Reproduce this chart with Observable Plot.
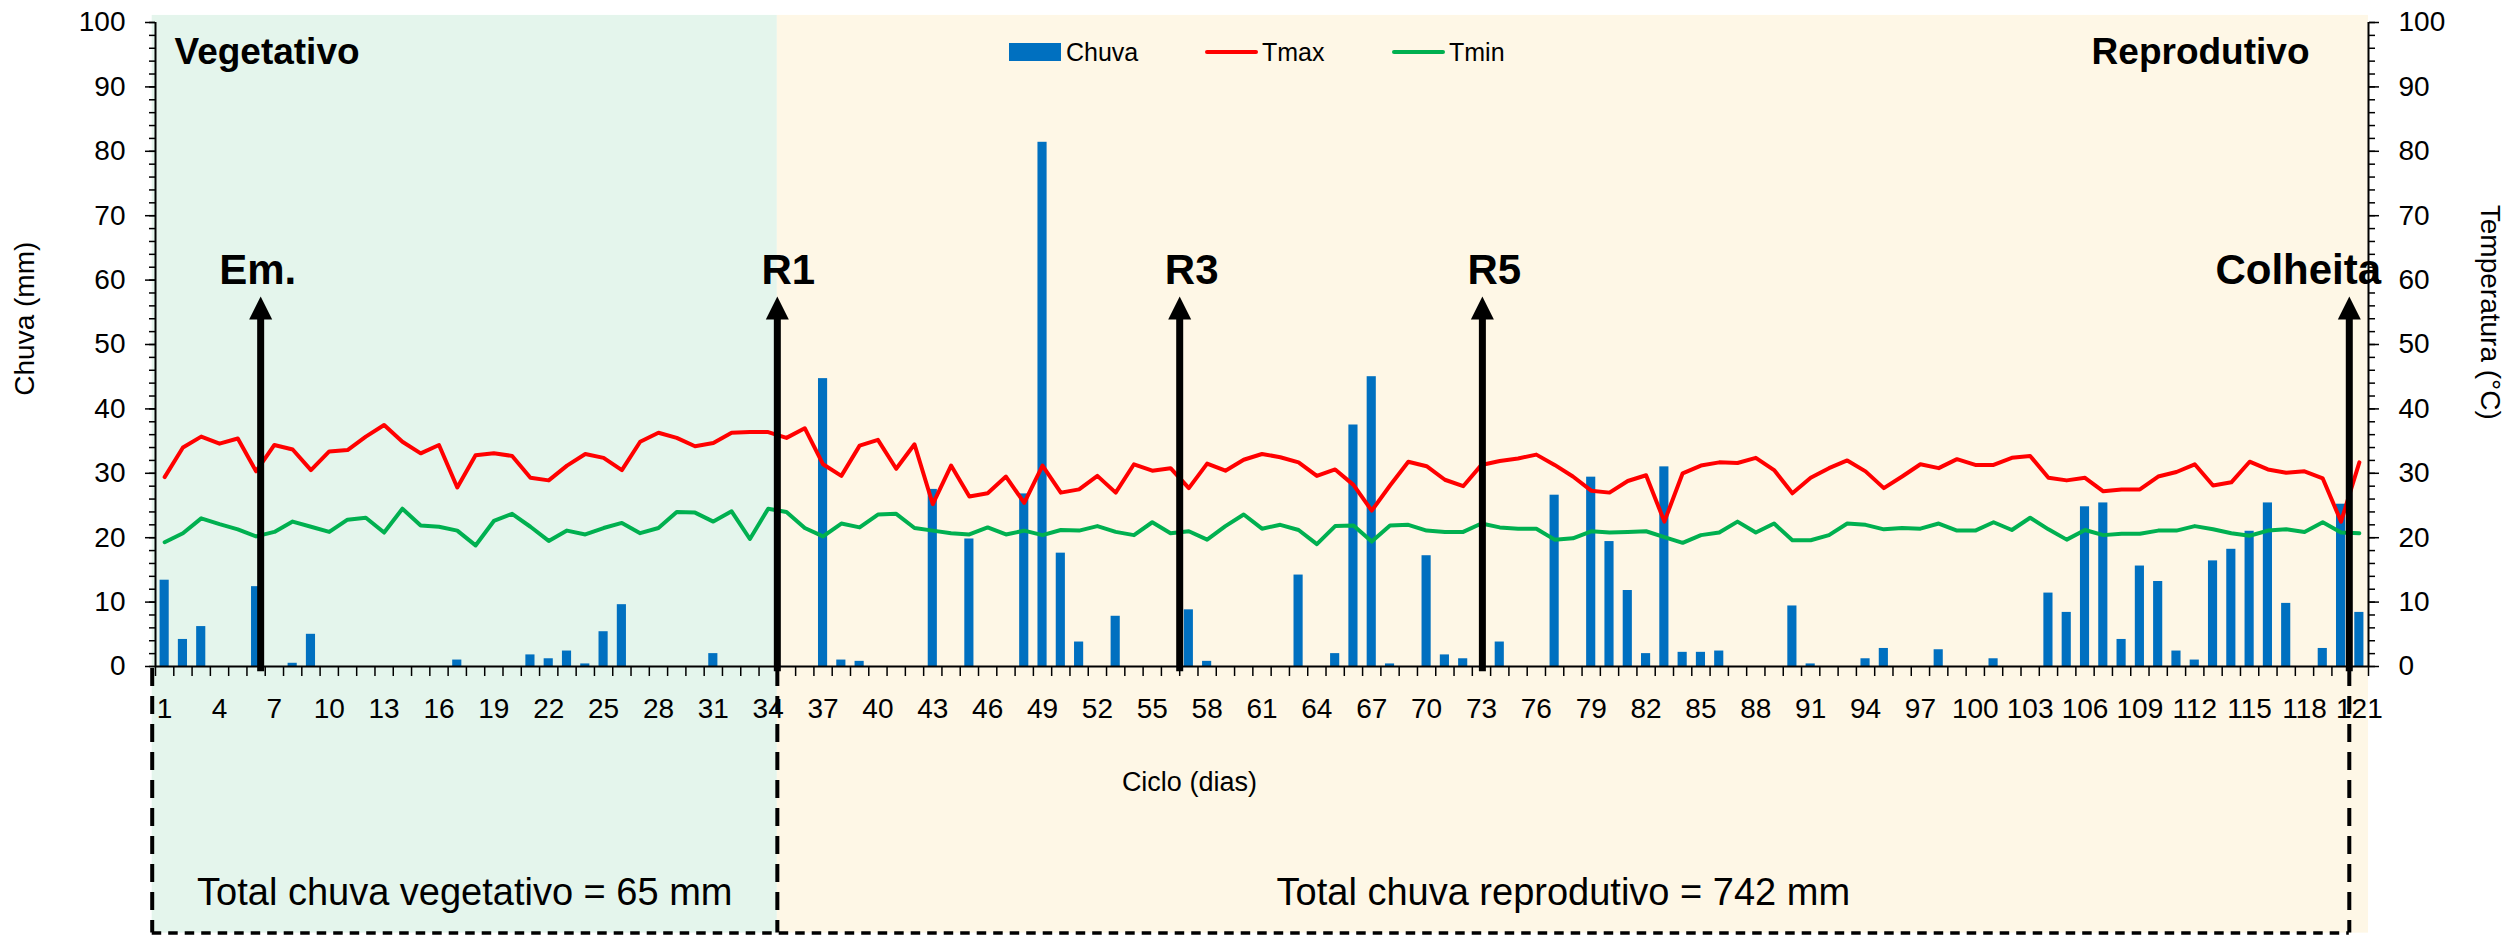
<!DOCTYPE html>
<html>
<head>
<meta charset="utf-8">
<script src="https://cdn.jsdelivr.net/npm/d3@7"></script>
<script src="https://cdn.jsdelivr.net/npm/@observablehq/plot@0.6"></script>
<style>
  html, body { margin: 0; padding: 0; background: #ffffff; }
  #wrap { position: relative; width: 2514px; height: 936px; font-family: "Liberation Sans", Arial, sans-serif; }
  #wrap svg { position: absolute; left: 0; top: 0; }
  .leg { position: absolute; }
  .legtxt { position: absolute; font-size: 25px; line-height: 1; transform: translateY(-50%); color: #000; white-space: nowrap; }
</style>
</head>
<body>
<div id="wrap"></div>
<script>
// ---- Data ----
const dias = d3.range(1, 122);            // Ciclo (dias): 1..121
const xTickLabels = d3.range(1, 122, 3);  // 1, 4, 7, ..., 121
const yTickLabels = d3.range(0, 101, 10); // 0..100

const chuva = [
  13.4, 4.2, 6.2, 0, 0, 12.4, 0, 0.5, 5.0, 0,
  0, 0, 0, 0, 0, 0, 1.0, 0, 0, 0,
  1.8, 1.2, 2.4, 0.4, 5.4, 9.6, 0, 0, 0, 0,
  2.0, 0, 0, 0, 0, 0, 44.7, 1.0, 0.8, 0,
  0, 0, 27.5, 0, 19.8, 0, 0, 26.8, 81.4, 17.6,
  3.8, 0, 7.8, 0, 0, 0, 8.8, 0.8, 0, 0,
  0, 0, 14.2, 0, 2.0, 37.5, 45.0, 0.4, 0, 17.2,
  1.8, 1.2, 0, 3.8, 0, 0, 26.6, 0, 29.4, 19.4,
  11.8, 2.0, 31.0, 2.2, 2.2, 2.4, 0, 0, 0, 9.4,
  0.4, 0, 0, 1.2, 2.8, 0, 0, 2.6, 0, 0,
  1.2, 0, 0, 11.4, 8.4, 24.8, 25.4, 4.2, 15.6, 13.2,
  2.4, 1.0, 16.4, 18.2, 21.0, 25.4, 9.8, 0, 2.8, 25.2,
  8.4
];

const tmax = [
  29.4, 34.0, 35.7, 34.6, 35.4, 30.3, 34.4, 33.7, 30.5, 33.4,
  33.6, 35.7, 37.5, 34.9, 33.1, 34.4, 27.8, 32.8, 33.1, 32.7,
  29.3, 28.9, 31.2, 33.0, 32.4, 30.5, 34.9, 36.3, 35.5, 34.2,
  34.7, 36.3, 36.4, 36.4, 35.5, 37.0, 31.4, 29.6, 34.3, 35.2,
  30.7, 34.5, 25.2, 31.2, 26.4, 26.9, 29.5, 25.4, 31.2, 27.0,
  27.5, 29.6, 27.0, 31.4, 30.4, 30.8, 27.7, 31.5, 30.4, 32.1,
  33.0, 32.5, 31.7, 29.6, 30.6, 28.2, 24.2, 28.1, 31.8, 31.1,
  29.0, 28.0, 31.3, 31.9, 32.3, 32.9, 31.3, 29.5, 27.3, 27.0,
  28.8, 29.7, 22.5, 30.0, 31.2, 31.7, 31.6, 32.4, 30.5, 26.9,
  29.3, 30.8, 32.0, 30.3, 27.7, 29.5, 31.4, 30.8, 32.2, 31.3,
  31.3, 32.4, 32.7, 29.3, 28.9, 29.3, 27.2, 27.5, 27.5, 29.5,
  30.2, 31.4, 28.1, 28.6, 31.8, 30.6, 30.1, 30.3, 29.2, 22.5,
  31.7
];

const tmin = [
  19.3, 20.7, 23.0, 22.1, 21.3, 20.2, 20.9, 22.5, 21.7, 20.9,
  22.8, 23.1, 20.8, 24.5, 21.9, 21.7, 21.1, 18.8, 22.6, 23.7,
  21.7, 19.5, 21.1, 20.5, 21.5, 22.3, 20.7, 21.5, 24.0, 23.9,
  22.5, 24.1, 19.8, 24.5, 24.0, 21.5, 20.2, 22.2, 21.6, 23.6,
  23.7, 21.5, 21.1, 20.7, 20.5, 21.6, 20.5, 21.1, 20.4, 21.2,
  21.1, 21.8, 20.9, 20.4, 22.4, 20.7, 21.0, 19.7, 21.8, 23.6,
  21.4, 22.0, 21.2, 19.0, 21.8, 21.9, 19.4, 21.9, 22.0, 21.1,
  20.9, 20.9, 22.2, 21.6, 21.4, 21.4, 19.7, 19.9, 21.0, 20.8,
  20.9, 21.0, 20.1, 19.2, 20.4, 20.8, 22.5, 20.8, 22.2, 19.6,
  19.6, 20.4, 22.2, 22.0, 21.3, 21.5, 21.4, 22.2, 21.1, 21.1,
  22.4, 21.2, 23.1, 21.3, 19.7, 21.2, 20.4, 20.6, 20.6, 21.1,
  21.1, 21.8, 21.3, 20.7, 20.3, 21.1, 21.3, 20.9, 22.4, 20.8,
  20.7
];

// Phenological stages (day position of each arrow)
const estadios = ["Em.", "R1", "R3", "R5", "Colheita"];
const estadioDia = [6.25, 34.5, 56.5, 73.05, 120.45];
const estadioDx = [-3, 11, 12, 12, -51];

// Phases
const fases = ["Vegetativo", "Reprodutivo"];
const faseTotais = ["Total chuva vegetativo = 65 mm", "Total chuva reprodutivo = 742 mm"];

// ---- Tables built from the arrays ----
const rows = dias.map((d, i) => ({dia: d, chuva: chuva[i], tmax: tmax[i], tmin: tmin[i]}));
const stages = estadios.map((s, i) => ({label: s, dia: estadioDia[i], dx: estadioDx[i]}));
const boxLeft = 0.32, boxRight = estadioDia[4], split = estadioDia[1];
const bgs = [
  {x1: boxLeft, x2: split, fill: "#E4F5EC"},
  {x1: split, x2: 121.5, fill: "#FEF7E6"}
];
const totals = [
  {text: faseTotais[0], x: (boxLeft + split) / 2},
  {text: faseTotais[1], x: (split + boxRight) / 2}
];

const head = {
  draw(ctx) {
    ctx.moveTo(-11.5, 0);
    ctx.lineTo(11.5, 0);
    ctx.lineTo(0, -23);
    ctx.closePath();
  }
};

const FONT = "Liberation Sans, Arial, sans-serif";

const chart = Plot.plot({
  width: 2514,
  height: 936,
  marginLeft: 155,
  marginRight: 146,
  marginTop: 22,
  marginBottom: 270,
  style: {background: "transparent", fontFamily: FONT, overflow: "visible", color: "#000"},
  x: {type: "linear", domain: [0.5, 121.5]},
  y: {domain: [0, 100]},
  marks: [
    // background phase regions
    Plot.rect(bgs, {x1: "x1", x2: "x2", y1: -41.4, y2: 101.1, fill: "fill"}),
    // rain bars
    Plot.rect(rows, {x1: d => d.dia - 0.25, x2: d => d.dia + 0.25, y1: 0, y2: "chuva", fill: "#0070C0"}),
    // temperature lines
    Plot.line(rows, {x: "dia", y: "tmax", stroke: "#FF0000", strokeWidth: 4, strokeLinejoin: "round"}),
    Plot.line(rows, {x: "dia", y: "tmin", stroke: "#00B050", strokeWidth: 4, strokeLinejoin: "round"}),
    // dashed box below the axis
    Plot.ruleX([boxLeft, split, boxRight], {y1: -0.3, y2: -41.4, stroke: "#000", strokeWidth: 4, strokeDasharray: "18,10"}),
    Plot.ruleY([-41.4], {x1: boxLeft, x2: boxRight, stroke: "#000", strokeWidth: 3.5, strokeDasharray: "9.5,7"}),
    // axis lines
    Plot.ruleX([0.5, 121.5], {y1: 0, y2: 100, stroke: "#000", strokeWidth: 2}),
    Plot.ruleY([0], {x1: 0.5, x2: 121.5, stroke: "#000", strokeWidth: 2}),
    // axes
    Plot.axisY(yTickLabels, {anchor: "left", tickSize: 10, tickPadding: 20, fontSize: 28, label: null, strokeWidth: 1.5}),
    Plot.axisY(d3.range(0, 101, 2), {anchor: "left", tickSize: 6, text: null, label: null, strokeWidth: 1.5}),
    Plot.axisY(yTickLabels, {anchor: "right", tickSize: 10, tickPadding: 20, fontSize: 28, label: null, strokeWidth: 1.5}),
    Plot.axisY(d3.range(0, 101, 2), {anchor: "right", tickSize: 6, text: null, label: null, strokeWidth: 1.5}),
    Plot.axisX(xTickLabels, {anchor: "bottom", tickSize: 0, tickPadding: 32, fontSize: 28, label: null}),
    Plot.axisX(d3.range(0.5, 122, 1), {anchor: "bottom", tickSize: 10, text: null, label: null, strokeWidth: 1.5}),
    // stage arrows
    Plot.ruleX(stages, {x: "dia", y1: -0.8, y2: 54.3, stroke: "#000", strokeWidth: 7}),
    Plot.dot(stages, {x: "dia", y: 53.9, symbol: head, fill: "#000", r: 10}),
    ...stages.map(s => Plot.text([s], {x: "dia", y: 59.4, text: "label", dx: s.dx, fontSize: 42, fontWeight: "bold", textAnchor: "middle", lineAnchor: "bottom", fill: "#000"})),
    // phase labels
    Plot.text([fases[0]], {x: 0.5, y: 93.5, text: d => d, dx: 19, fontSize: 37, fontWeight: "bold", textAnchor: "start", lineAnchor: "bottom"}),
    Plot.text([fases[1]], {x: 121.5, y: 93.5, text: d => d, dx: -59, fontSize: 37, fontWeight: "bold", textAnchor: "end", lineAnchor: "bottom"}),
    // totals in the dashed box
    Plot.text(totals, {x: "x", y: -37.1, text: "text", fontSize: 38, textAnchor: "middle", lineAnchor: "bottom"}),
    // axis titles
    Plot.text(["Ciclo (dias)"], {x: 57.03, y: -18.0, text: d => d, fontSize: 27, textAnchor: "middle", lineAnchor: "middle"}),
    Plot.text(["Chuva (mm)"], {frameAnchor: "left", y: 54.0, dx: -130, text: d => d, fontSize: 28, rotate: -90, textAnchor: "middle", lineAnchor: "middle"}),
    Plot.text(["Temperatura (°C)"], {frameAnchor: "right", y: 55.0, dx: 121, text: d => d, fontSize: 28, rotate: 90, textAnchor: "middle", lineAnchor: "middle"})
  ]
});

const wrap = document.getElementById("wrap");
wrap.appendChild(chart);

// Legend (inside the plot area, at the top)
const legend = [
  {name: "Chuva", kind: "rect", color: "#0070C0", left: 1009, textLeft: 1066},
  {name: "Tmax", kind: "line", color: "#FF0000", left: 1205, textLeft: 1262},
  {name: "Tmin", kind: "line", color: "#00B050", left: 1392, textLeft: 1449}
];
const legY = 51.5;
for (const l of legend) {
  const sw = document.createElement("div");
  sw.className = "leg";
  sw.style.left = l.left + "px";
  sw.style.width = (l.kind === "rect" ? 52 : 53) + "px";
  sw.style.height = (l.kind === "rect" ? 18 : 4) + "px";
  sw.style.top = (legY - (l.kind === "rect" ? 9 : 2)) + "px";
  sw.style.background = l.color;
  if (l.kind === "line") sw.style.borderRadius = "2px";
  wrap.appendChild(sw);
  const t = document.createElement("div");
  t.className = "legtxt";
  t.style.left = l.textLeft + "px";
  t.style.top = legY + "px";
  t.textContent = l.name;
  wrap.appendChild(t);
}
</script>
</body>
</html>
